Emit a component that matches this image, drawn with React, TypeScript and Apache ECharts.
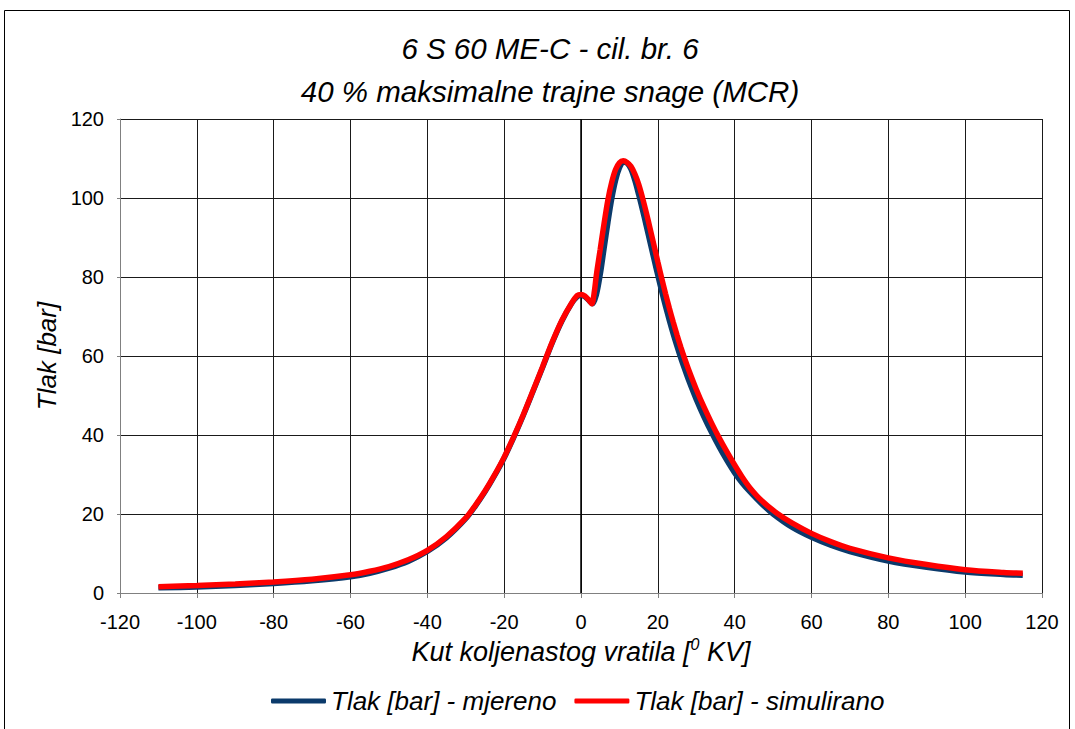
import React, { useEffect, useRef } from "react";
import * as echarts from "echarts";

const titleLine1 = "6 S 60 ME-C - cil. br. 6";
const titleLine2 = "40 % maksimalne trajne snage (MCR)";
const seriesNames = ["Tlak [bar] - mjereno", "Tlak [bar] - simulirano"];

const angleMeasured = [-110, -100, -90, -80, -70, -60, -55, -50, -45, -40, -35, -30, -27.5, -25, -22.5, -20, -17.5, -15, -12.5, -10, -7.5, -5, -2.5, -1, 0, 1, 2, 3, 4, 5, 6, 7, 8, 9, 10, 11, 12, 13, 14, 15, 16, 17, 18, 19, 20, 21, 22, 23, 24, 25, 26, 27, 28, 30, 32, 34, 36, 38, 40, 42, 44, 47, 50, 55, 60, 65, 70, 80, 90, 100, 110, 115];
const pressureMeasured = [1.3, 1.5, 1.9, 2.4, 3.1, 4.1, 5.0, 6.3, 8.0, 10.5, 14.0, 18.8, 22.0, 25.6, 29.7, 34.2, 39.4, 45.0, 51.0, 57.1, 63.3, 68.8, 73.2, 75.0, 75.4, 75.0, 74.1, 73.2, 75.5, 80.6, 87.2, 93.8, 99.8, 104.5, 107.6, 109.1, 108.8, 107.3, 104.5, 100.9, 97.0, 92.9, 88.7, 84.5, 80.4, 76.4, 72.6, 69.0, 65.6, 62.4, 59.4, 56.6, 53.9, 49.0, 44.6, 40.6, 36.9, 33.5, 30.4, 27.8, 25.6, 22.6, 20.0, 16.6, 14.1, 12.1, 10.5, 8.1, 6.5, 5.3, 4.7, 4.5];

const angleSimulated = [-110, -100, -90, -80, -70, -60, -55, -50, -45, -40, -35, -30, -27.5, -25, -22.5, -20, -17.5, -15, -12.5, -10, -7.5, -5, -2.5, -1, 0, 1, 2, 2.8, 3.5, 4, 5, 6, 7, 8, 9, 10, 11, 12, 13, 14, 15, 16, 17, 18, 19, 20, 21, 22, 23, 24, 25, 26, 27, 28, 30, 32, 34, 36, 38, 40, 42, 44, 47, 51, 55, 60, 65, 70, 80, 90, 100, 110, 115];
const pressureSimulated = [1.6, 1.9, 2.3, 2.8, 3.5, 4.6, 5.5, 6.7, 8.4, 10.8, 14.3, 19.0, 22.2, 25.8, 29.9, 34.4, 39.6, 45.2, 51.2, 57.3, 63.5, 69.0, 73.3, 75.3, 75.6, 75.2, 74.2, 73.2, 76.5, 80.5, 87.0, 93.5, 99.5, 104.0, 107.2, 108.9, 109.4, 109.0, 108.0, 106.1, 103.5, 100.1, 96.3, 92.2, 88.0, 83.8, 79.7, 75.8, 72.1, 68.6, 65.3, 62.2, 59.3, 56.6, 51.6, 47.1, 43.0, 39.2, 35.7, 32.4, 29.3, 26.6, 23.4, 20.2, 17.7, 15.1, 13.0, 11.3, 8.9, 7.2, 5.9, 5.2, 5.0];

const xTicks = { min: -120, max: 120, interval: 20 };
const yTicks = { min: 0, max: 120, interval: 20 };

const font = "Liberation Sans, Arial, sans-serif";

export default function App() {
  const ref = useRef<HTMLDivElement>(null);
  useEffect(() => {
    if (!ref.current) return;
    const chart = echarts.init(ref.current, undefined, { renderer: "svg" });
    const toPairs = (xs: number[], ys: number[]) => xs.map((x, i) => [x, ys[i]]);
    const titleStyle = { fontFamily: font, fontSize: 29.5, fontStyle: "italic", fontWeight: "normal", color: "#000" };
    chart.setOption({
      animation: false,
      backgroundColor: "#fff",
      textStyle: { fontFamily: font },
      title: [
        { text: titleLine1, left: 545, textAlign: "center", top: 28, textStyle: titleStyle },
        { text: titleLine2, left: 545, textAlign: "center", top: 71, textStyle: titleStyle },
      ],
      graphic: [
        {
          type: "rect",
          shape: { x: 4.5, y: 10.5, width: 1065, height: 740 },
          style: { fill: "none", stroke: "#000", lineWidth: 1 },
          silent: true,
        },
      ],
      grid: { left: 120, right: 33, top: 119, bottom: 136 },
      legend: {
        bottom: 10,
        left: 266,
        icon: "roundRect",
        itemWidth: 55,
        itemHeight: 5,
        itemGap: 18,
        textStyle: { fontFamily: font, fontSize: 26, fontStyle: "italic", color: "#000" },
        data: seriesNames,
      },
      xAxis: {
        type: "value",
        min: xTicks.min,
        max: xTicks.max,
        interval: xTicks.interval,
        name: "{a|Kut koljenastog vratila [}{s|0}{a| KV]}",
        nameLocation: "middle",
        nameGap: 42,
        nameTextStyle: {
          rich: {
            a: { fontFamily: font, fontSize: 27, fontStyle: "italic", color: "#000", lineHeight: 30 },
            s: { fontFamily: font, fontSize: 16, fontStyle: "italic", color: "#000", lineHeight: 30, verticalAlign: "top", padding: [0, 0, 12, 0] },
          },
        },
        axisLine: { show: true, onZero: false, lineStyle: { color: "#808080", width: 1 } },
        axisTick: { show: true, length: 5, lineStyle: { color: "#808080" } },
        axisLabel: { fontFamily: font, fontSize: 20, color: "#000", margin: 19 },
        splitLine: { show: true, lineStyle: { color: "#1a1a1a", width: 1 } },
      },
      yAxis: {
        type: "value",
        min: yTicks.min,
        max: yTicks.max,
        interval: yTicks.interval,
        name: "Tlak [bar]",
        nameLocation: "middle",
        nameRotate: 90,
        nameGap: 54,
        nameTextStyle: { fontFamily: font, fontSize: 26, fontStyle: "italic", color: "#000" },
        axisLine: { show: true, onZero: false, lineStyle: { color: "#808080", width: 1 } },
        axisTick: { show: true, length: 3, lineStyle: { color: "#808080" } },
        axisLabel: { fontFamily: font, fontSize: 20, color: "#000", margin: 16 },
        splitLine: { show: true, lineStyle: { color: "#1a1a1a", width: 1 } },
      },
      series: [
        {
          name: seriesNames[0],
          type: "line",
          data: toPairs(angleMeasured, pressureMeasured),
          showSymbol: false,
          symbol: "none",
          smooth: 0.3,
          color: "#0b3a6b",
          lineStyle: { color: "#0b3a6b", width: 5.5 },
          z: 2,
          markLine: {
            silent: true,
            symbol: "none",
            label: { show: false },
            lineStyle: { color: "#000", width: 1.5, type: "solid" },
            data: [{ xAxis: 0 }],
            z: 1,
          },
        },
        {
          name: seriesNames[1],
          type: "line",
          data: toPairs(angleSimulated, pressureSimulated),
          showSymbol: false,
          symbol: "none",
          smooth: 0.3,
          color: "#ff0000",
          lineStyle: { color: "#ff0000", width: 5.5 },
          z: 3,
        },
      ],
    });
    return () => chart.dispose();
  }, []);
  return (
    <div
      ref={ref}
      style={{ position: "fixed", left: 0, top: 0, width: 1075, height: 729, background: "#fff" }}
    />
  );
}
